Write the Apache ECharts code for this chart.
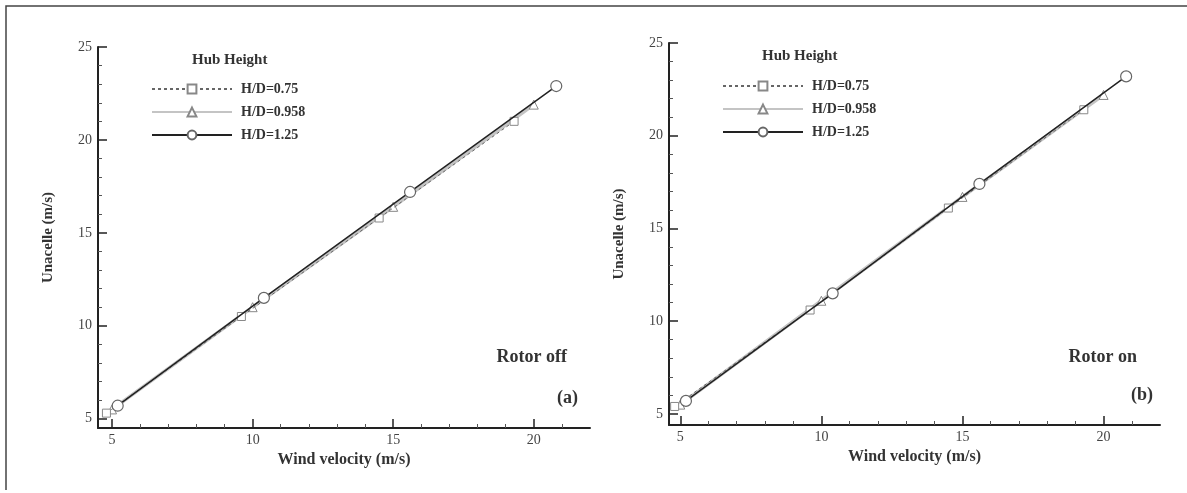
<!DOCTYPE html>
<html>
<head>
<meta charset="utf-8">
<script src="https://cdn.jsdelivr.net/npm/echarts@6/dist/echarts.min.js"></script>
<style>
html,body{margin:0;padding:0;background:#fff;}
#chart{width:1187px;height:493px;}
</style>
</head>
<body>
<div id="chart"></div>
<script>
// ---- data ----
const seriesNames = ['H/D=0.75', 'H/D=0.958', 'H/D=1.25'];
// Panel (a) Rotor off
const windA_075 = [4.8, 9.6, 14.5, 19.3];
const unacA_075 = [5.3, 10.5, 15.8, 21.0];
const windA_0958 = [5.0, 10.0, 15.0, 20.0];
const unacA_0958 = [5.5, 11.0, 16.4, 21.9];
const windA_125 = [5.2, 10.4, 15.6, 20.8];
const unacA_125 = [5.7, 11.5, 17.2, 22.9];
// Panel (b) Rotor on
const windB_075 = [4.8, 9.6, 14.5, 19.3];
const unacB_075 = [5.4, 10.6, 16.1, 21.4];
const windB_0958 = [5.0, 10.0, 15.0, 20.0];
const unacB_0958 = [5.5, 11.1, 16.7, 22.2];
const windB_125 = [5.2, 10.4, 15.6, 20.8];
const unacB_125 = [5.7, 11.5, 17.4, 23.2];
// tick labels
const xTicks = [5, 10, 15, 20];
const yTicks = [5, 10, 15, 20, 25];
const xMinor = [6, 7, 8, 9, 11, 12, 13, 14, 16, 17, 18, 19, 21];
const yMinor = [6, 7, 8, 9, 11, 12, 13, 14, 16, 17, 18, 19, 21, 22, 23, 24];

const pairs = (xs, ys) => xs.map((x, i) => [x, ys[i]]);

const FONT = '"Liberation Serif", "DejaVu Serif", serif';
const axisCol = '#222';

function mainX(grid, min) {
  return {
    type: 'value', gridIndex: grid, min: min, max: 22, position: 'bottom',
    axisLine: { show: true, onZero: false, lineStyle: { color: axisCol, width: 2 } },
    axisTick: { show: true, inside: true, length: 9, customValues: xTicks, lineStyle: { color: axisCol, width: 1.5 } },
    axisLabel: { customValues: xTicks, color: '#444', fontFamily: FONT, fontSize: 14, margin: 5 },
    splitLine: { show: false },
    name: 'Wind velocity (m/s)', nameLocation: 'middle', nameGap: 18,
    nameTextStyle: { color: '#333', fontFamily: FONT, fontSize: 16, fontWeight: 'bold' }
  };
}
function minorX(grid, min) {
  return {
    type: 'value', gridIndex: grid, min: min, max: 22, position: 'bottom',
    axisLine: { show: false },
    axisTick: { show: true, inside: true, length: 4, customValues: xMinor, lineStyle: { color: '#555', width: 1 } },
    axisLabel: { show: false }, splitLine: { show: false }
  };
}
function mainY(grid, min) {
  return {
    type: 'value', gridIndex: grid, min: min, max: 25, position: 'left',
    axisLine: { show: true, onZero: false, lineStyle: { color: axisCol, width: 2 } },
    axisTick: { show: true, inside: true, length: 9, customValues: yTicks, lineStyle: { color: axisCol, width: 1.5 } },
    axisLabel: { customValues: yTicks, color: '#444', fontFamily: FONT, fontSize: 14, margin: 6 },
    splitLine: { show: false },
    name: 'Unacelle (m/s)', nameLocation: 'middle', nameGap: 42, nameRotate: 90,
    nameTextStyle: { color: '#333', fontFamily: FONT, fontSize: 15, fontWeight: 'bold' }
  };
}
function minorY(grid, min) {
  return {
    type: 'value', gridIndex: grid, min: min, max: 25, position: 'left',
    axisLine: { show: false },
    axisTick: { show: true, inside: true, length: 4, customValues: yMinor, lineStyle: { color: '#555', width: 1 } },
    axisLabel: { show: false }, splitLine: { show: false }
  };
}

function makeSeries(xi, yi, d075, d0958, d125) {
  return [
    {
      name: seriesNames[1], type: 'line', xAxisIndex: xi, yAxisIndex: yi, data: d0958,
      symbol: 'triangle', symbolSize: 9, z: 2,
      lineStyle: { color: '#c4c4c4', width: 3.5, type: 'solid' },
      itemStyle: { color: '#fff', borderColor: '#888', borderWidth: 1 }
    },
    {
      name: seriesNames[0], type: 'line', xAxisIndex: xi, yAxisIndex: yi, data: d075,
      symbol: 'rect', symbolSize: 8, z: 3,
      lineStyle: { color: '#666', width: 1, type: [3, 3] },
      itemStyle: { color: '#fff', borderColor: '#888', borderWidth: 1 }
    },
    {
      name: seriesNames[2], type: 'line', xAxisIndex: xi, yAxisIndex: yi, data: d125,
      symbol: 'circle', symbolSize: 11, z: 4,
      lineStyle: { color: '#222', width: 1.5, type: 'solid' },
      itemStyle: { color: '#fff', borderColor: '#666', borderWidth: 1.2 }
    }
  ];
}

function legend(left, top) {
  return {
    left: left, top: top, orient: 'vertical', itemWidth: 80, itemHeight: 11, itemGap: 9,
    selectedMode: false, data: [seriesNames[0], seriesNames[1], seriesNames[2]],
    textStyle: { color: '#333', fontFamily: FONT, fontSize: 14, fontWeight: 'bold', padding: [0, 0, 0, 4] }
  };
}

function label(text, x, y, size, align) {
  return {
    type: 'text', x: x, y: y,
    style: { text: text, fill: '#333', font: 'bold ' + size + 'px ' + FONT, textAlign: align, textVerticalAlign: 'middle' }
  };
}

const chart = echarts.init(document.getElementById('chart'), null, { renderer: 'canvas' });
chart.setOption({
  backgroundColor: '#fff',
  animation: false,
  grid: [
    { left: 98, top: 47, width: 492, height: 381 },
    { left: 669, top: 43, width: 491, height: 382 }
  ],
  xAxis: [mainX(0, 4.5), minorX(0, 4.5), mainX(1, 4.6), minorX(1, 4.6)],
  yAxis: [mainY(0, 4.5), minorY(0, 4.5), mainY(1, 4.4), minorY(1, 4.4)],
  legend: [legend(146, 77), legend(717, 74)],
  series: [].concat(
    makeSeries(0, 0, pairs(windA_075, unacA_075), pairs(windA_0958, unacA_0958), pairs(windA_125, unacA_125)),
    makeSeries(2, 2, pairs(windB_075, unacB_075), pairs(windB_0958, unacB_0958), pairs(windB_125, unacB_125))
  ),
  graphic: [
    { type: 'polyline', shape: { points: [[6, 490], [6, 6], [1187, 6]] }, style: { stroke: '#444', lineWidth: 1.5, fill: null } },
    label('Hub Height', 192, 60, 15, 'left'),
    label('Rotor off', 567, 357, 18, 'right'),
    label('(a)', 578, 398, 18, 'right'),
    label('Hub Height', 762, 56, 15, 'left'),
    label('Rotor on', 1137, 357, 18, 'right'),
    label('(b)', 1153, 395, 18, 'right')
  ]
});
</script>
</body>
</html>
